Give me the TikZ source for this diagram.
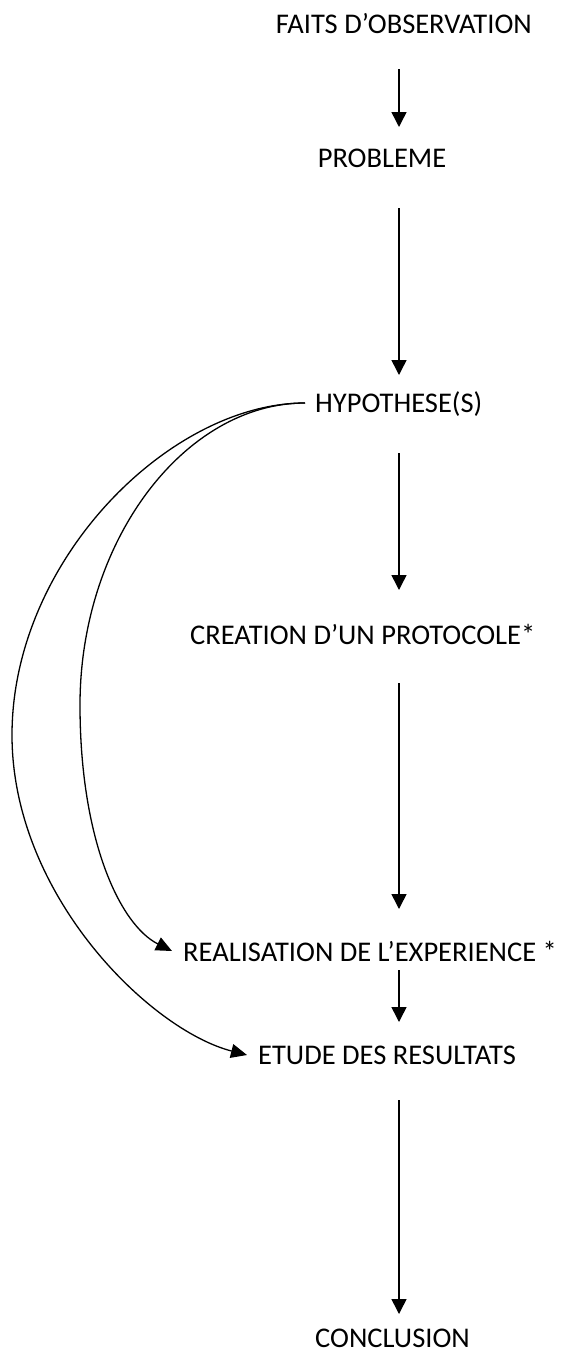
\documentclass[tikz,border=0pt]{standalone}
\usepackage{fontspec}
\setmainfont{Carlito}
\usetikzlibrary{arrows.meta}
\begin{document}
\begin{tikzpicture}[x=1pt,y=-1pt,
  lbl/.style={font=\fontsize{28.5}{34}\selectfont, inner sep=0pt},
  conn/.style={line width=1.5pt, -{Triangle[width=15pt,length=15pt]}},
  curv/.style={line width=1.3pt, -{Triangle[width=14pt,length=16pt]}}]
\useasboundingbox (0,0) rectangle (571,1352);
\node[lbl, anchor=base east] (faits) at (532,33) {FAITS D’OBSERVATION};
\node[lbl, anchor=base] (prob) at (382,167) {PROBLEME};
\node[lbl, anchor=base west] (hyp) at (315,412) {HYPOTHESE(S)};
\node[lbl, anchor=base west] (crea) at (190,644) {CREATION D’UN PROTOCOLE*};
\node[lbl, anchor=base west] (real) at (183,961) {REALISATION DE L’EXPERIENCE *};
\node[lbl, anchor=base west] (etude) at (258,1064) {ETUDE DES RESULTATS};
\node[lbl, anchor=base east] (concl) at (470,1347) {CONCLUSION};
\coordinate (a1s) at (399,69);  \coordinate (a1e) at (399,127);
\coordinate (a2s) at (399,208); \coordinate (a2e) at (399,375);
\coordinate (a3s) at (399,453); \coordinate (a3e) at (399,590);
\coordinate (a4s) at (399,683); \coordinate (a4e) at (399,909);
\coordinate (a5s) at (399,970); \coordinate (a5e) at (399,1022);
\coordinate (a6s) at (399,1100);\coordinate (a6e) at (399,1314);
\draw[conn] (a1s) -- (a1e);
\draw[conn] (a2s) -- (a2e);
\draw[conn] (a3s) -- (a3e);
\draw[conn] (a4s) -- (a4e);
\draw[conn] (a5s) -- (a5e);
\draw[conn] (a6s) -- (a6e);
\coordinate (cs) at (305,403);
\coordinate (t1) at (172,951);
\coordinate (t2) at (247,1055);
\draw[curv] (cs) .. controls (185,403) and (80,540) .. (80,705)
  .. controls (80,840) and (120,925) .. (t1);
\draw[curv] (cs) .. controls (170,403) and (12,560) .. (12,735)
  .. controls (12,895) and (150,1030) .. (t2);
\end{tikzpicture}
\end{document}
